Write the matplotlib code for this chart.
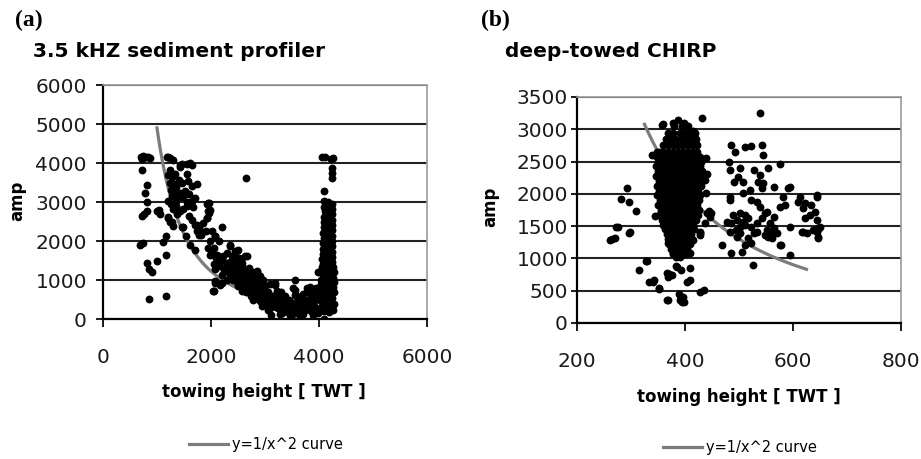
import numpy as np
import matplotlib.pyplot as plt

# ---- panel (a): 3.5 kHz sediment profiler ----
a_left = [(700, 4150), (740, 4180), (790, 4160), (840, 4150), (880, 4120), (720, 4100),
          (730, 3810), (810, 3440), (780, 3230), (810, 3000), (820, 2760), (760, 2700),
          (730, 2650), (690, 1900), (740, 1950), (810, 1440), (845, 1290), (900, 1200),
          (1000, 1480), (860, 520), (1170, 590), (1110, 1980), (1170, 2130), (1160, 1650),
          (1050, 2700), (1040, 2800), (1000, 2780), (1210, 2590), (1250, 2500), (1290, 2380)]

a_upper = [(1180, 4160), (1210, 4160), (1250, 4120), (1290, 4080), (1420, 3950), (1470, 3980),
           (1560, 3970), (1610, 3990), (1640, 3950), (1240, 3810), (1330, 3720), (1430, 3890),
           (1550, 3720), (1200, 3700), (1280, 3640), (1240, 3500), (1360, 3380), (1460, 3500),
           (1520, 3290), (1640, 3420), (1740, 3460), (1310, 3450), (1400, 3560), (1580, 3550),
           (1270, 3160), (1360, 3030), (1460, 3120), (1550, 2990), (1640, 3030), (1210, 3030),
           (1300, 3250), (1420, 3230), (1500, 3180), (1590, 3200), (1700, 3100), (1430, 2780),
           (1300, 2820), (1490, 2820), (1670, 2870), (1920, 2950), (1970, 2730), (1350, 2900),
           (1550, 2900), (1260, 2960), (1210, 2610), (1270, 2480), (1460, 2350), (1480, 2370),
           (1530, 2120), (1650, 2540), (1710, 2410), (1780, 2330), (1850, 2460), (1740, 2250),
           (1810, 2160), (1930, 2580), (1990, 2800), (1960, 2970), (1910, 2250), (1380, 2700),
           (1600, 2650), (2650, 3620), (1300, 3350), (1380, 3120), (1260, 3320)]

a_band = [(1620, 1910), (1710, 1780), (1990, 1990), (2050, 1820), (2080, 2120), (2200, 2370),
          (1990, 1650), (2110, 1650), (2140, 1530), (2050, 1400), (2170, 1360), (2080, 1270),
          (2290, 1440), (2360, 1860), (2450, 1740), (2510, 1570), (2390, 1610), (2570, 1440),
          (2660, 1610), (2450, 1310), (2540, 1190), (2330, 1190), (2200, 1140), (2080, 930),
          (2050, 720), (2200, 930), (2630, 1020), (2720, 930), (2750, 1100), (2570, 850),
          (2780, 500), (1940, 2980), (1950, 2760), (1920, 2590), (1740, 2420), (1800, 2250),
          (1770, 2160), (2010, 2250), (2070, 2120), (2140, 1990), (1950, 1820), (2010, 1690),
          (2100, 1570), (2170, 1480), (2230, 1610), (2350, 1900), (2500, 1780), (2440, 1650),
          (2630, 1610), (2290, 1350), (2380, 1270), (2480, 1390), (2570, 1350), (2600, 1140),
          (2660, 1050), (2850, 1220), (2880, 1100), (2750, 920), (2940, 970), (2070, 970),
          (2170, 880), (2040, 710), (2410, 1010), (2500, 840), (2570, 710), (2810, 800),
          (2910, 670), (3000, 840), (3060, 580), (3190, 920), (3220, 710), (3280, 500),
          (3160, 370), (3370, 580), (3430, 410), (3310, 150), (3555, 1010), (3520, 800),
          (3555, 620), (3590, 410), (3490, 240), (3680, 500), (3770, 800), (3830, 750),
          (3800, 500), (3740, 240), (3890, 330), (3930, 580), (3990, 150), (3370, 240),
          (3060, 240), (3120, 110), (2940, 330), (2780, 580), (2910, 450), (3250, 280),
          (3650, 110), (3490, 70), (2850, 1210), (2780, 1090), (2970, 1000), (2910, 830),
          (2720, 660), (2820, 530), (3000, 700), (3060, 530), (3190, 870), (3220, 660),
          (3150, 360), (3310, 490), (3280, 140), (3400, 400), (3520, 230), (3560, 740),
          (3590, 570), (3650, 400), (3710, 140), (3770, 700), (3830, 830), (3860, 570),
          (3930, 320), (3800, 320), (3960, 530), (3340, 320), (3460, 100), (3650, 100),
          (3090, 270), (3000, 400), (3890, 100), (2300, 1000), (2400, 1100), (2500, 1200),
          (2550, 1000), (2650, 900), (2700, 800), (2600, 1250), (2700, 1300), (2800, 1000),
          (2850, 900), (2900, 1100), (2950, 800), (3050, 700), (3100, 900), (3150, 600),
          (3250, 550), (3350, 400), (3400, 250), (3450, 500), (3550, 300), (3600, 200),
          (3700, 300), (3750, 450), (3850, 200), (3300, 700), (3200, 450), (3100, 350),
          (2350, 1450), (2450, 1500), (2550, 1550), (2300, 1700), (2250, 1250), (2400, 1400),
          (2200, 1550), (2900, 600), (2650, 700), (2750, 600), (3000, 550), (3450, 150),
          (3550, 150), (3600, 600), (3700, 650), (3900, 450), (3950, 800), (3990, 1210),
          (4050, 1340), (4090, 10), (2350, 1320), (2420, 1200), (2520, 1100), (2620, 1150),
          (2480, 950), (2600, 950), (2700, 1000), (2820, 700), (2680, 1200), (2760, 1200),
          (2950, 650), (3100, 500), (3200, 300), (3300, 300), (3420, 330), (3500, 420),
          (3580, 250), (3680, 200), (3760, 350), (3850, 380), (3920, 700), (3880, 650)]

a_column = [(4060, 4150), (4120, 4150), (4220, 4100), (4260, 4130), (4240, 3880), (4240, 3750),
            (4240, 3620), (4090, 3290), (4090, 3030), (4170, 2990), (4240, 2950),
            (4100, 2880), (4180, 2860), (4240, 2830), (4110, 2760), (4190, 2720), (4250, 2690),
            (4100, 2620), (4170, 2580), (4240, 2550), (4090, 2480), (4180, 2450), (4250, 2410),
            (4100, 2350), (4170, 2300), (4240, 2270), (4080, 2210), (4160, 2170), (4250, 2140),
            (4090, 2070), (4180, 2030), (4240, 2000), (4080, 1940), (4160, 1900), (4250, 1860),
            (4070, 1800), (4170, 1760), (4240, 1730), (4080, 1670), (4160, 1630), (4250, 1590),
            (4060, 1530), (4150, 1500), (4240, 1460), (4080, 1400), (4170, 1360), (4260, 1330),
            (4050, 1270), (4140, 1230), (4230, 1200), (4080, 1140), (4170, 1100), (4260, 1060),
            (4040, 1000), (4130, 970), (4220, 940), (4070, 870), (4160, 840), (4260, 810),
            (4030, 740), (4120, 710), (4210, 680), (4060, 610), (4150, 580), (4250, 550),
            (4020, 480), (4110, 450), (4200, 420), (4270, 390), (4060, 340), (4150, 310),
            (4240, 280), (4010, 240), (4100, 200), (4190, 180), (4260, 220),
            (4140, 2800), (4210, 2620), (4140, 2400), (4210, 2220), (4130, 2000), (4210, 1810),
            (4120, 1580), (4200, 1420), (4110, 1180), (4200, 1020), (4100, 780), (4200, 620),
            (4080, 520), (4170, 380), (4230, 2480), (4120, 2640), (4220, 1650), (4110, 1860),
            (4030, 900), (4000, 640), (4270, 1200), (4270, 950), (4270, 700)]

# ---- panel (b): deep-towed CHIRP ----
b_core_rows = [(3050, [380, 395, 405]),
               (2950, [368, 378, 390, 400, 410, 418]),
               (2850, [365, 373, 382, 392, 401, 410, 420]),
               (2750, [360, 368, 377, 386, 395, 404, 413, 422]),
               (2650, [352, 360, 369, 378, 387, 396, 405, 414, 423]),
               (2575, [348, 356, 365, 374, 383, 392, 401, 410, 419, 428]),
               (2500, [350, 358, 367, 376, 385, 394, 403, 412, 421, 430]),
               (2425, [346, 355, 364, 373, 382, 391, 400, 409, 418, 427]),
               (2350, [350, 359, 368, 377, 386, 395, 404, 413, 422, 431]),
               (2275, [347, 356, 365, 374, 383, 392, 401, 410, 419, 428]),
               (2200, [351, 360, 369, 378, 387, 396, 405, 414, 423, 431]),
               (2125, [348, 357, 366, 375, 384, 393, 402, 411, 420, 429]),
               (2050, [352, 361, 370, 379, 388, 397, 406, 415, 424]),
               (1975, [349, 358, 367, 376, 385, 394, 403, 412, 421, 428]),
               (1900, [353, 362, 371, 380, 389, 398, 407, 416, 425]),
               (1825, [350, 359, 368, 377, 386, 395, 404, 413, 422]),
               (1750, [355, 364, 373, 382, 391, 400, 409, 418, 426]),
               (1675, [352, 361, 370, 379, 388, 397, 406, 415, 424]),
               (1600, [357, 366, 375, 384, 393, 402, 411, 420]),
               (1525, [360, 369, 378, 387, 396, 405, 414]),
               (1450, [363, 372, 381, 390, 399, 408, 417]),
               (1375, [366, 375, 384, 393, 402, 411]),
               (1300, [368, 377, 386, 395, 404, 413]),
               (1225, [370, 380, 390, 400, 410]),
               (1150, [374, 384, 394, 404]),
               (1075, [378, 390, 402])]

b_left = [(293, 2090), (281, 1920), (296, 1870), (309, 1740), (273, 1480), (296, 1400),
          (265, 1300), (262, 1280), (270, 1310), (275, 1490), (298, 1415)]

b_low = [(344, 1650), (327, 960), (314, 820), (334, 640), (340, 640), (343, 660), (351, 537),
         (352, 530), (367, 350), (369, 357), (370, 760), (366, 770), (369, 718), (375, 744),
         (385, 873), (393, 821), (383, 890), (383, 1020), (390, 357), (395, 383), (399, 331),
         (396, 408), (392, 400), (395, 325), (389, 450), (403, 633), (409, 666), (409, 847),
         (409, 1080), (427, 486), (436, 512), (427, 1390), (368, 1467), (369, 1235),
         (378, 1080), (390, 1028), (385, 1286), (329, 966)]

b_top = [(358, 3060), (360, 3080), (378, 3090), (387, 3145), (398, 3100), (431, 3180),
         (415, 2970), (401, 3030), (440, 2300), (438, 2550), (438, 2010), (444, 1740),
         (448, 1700), (437, 2216), (440, 1700), (446, 1648), (437, 1545), (428, 1416),
         (428, 1364), (415, 1287), (339, 2600), (348, 2650)]

b_right = [(539, 3258), (486, 2757), (493, 2654), (511, 2732), (523, 2742), (542, 2757),
           (545, 2603), (576, 2463), (482, 2500), (483, 2370), (502, 2396), (499, 2267),
           (490, 2190), (508, 2190), (527, 2370), (539, 2293), (554, 2396), (536, 2190),
           (545, 2164), (542, 2087), (564, 2102), (591, 2087), (582, 1947), (613, 1957),
           (520, 2061), (508, 2020), (483, 1958), (483, 1906), (523, 1906), (533, 1880),
           (539, 1803), (551, 1725), (564, 1648), (576, 1803), (585, 1829), (610, 1880),
           (622, 1854), (634, 1829), (644, 1958), (619, 1777), (631, 1674), (641, 1725),
           (644, 1597), (647, 1467), (650, 1493), (622, 1622), (594, 1493), (616, 1416),
           (625, 1390), (647, 1338), (644, 1416), (489, 1674), (502, 1700), (511, 1674),
           (496, 1597), (508, 1571), (517, 1622), (486, 1545), (502, 1493), (511, 1519),
           (523, 1493), (533, 1545), (542, 1622), (548, 1700), (557, 1545), (564, 1467),
           (557, 1390), (570, 1390), (548, 1364), (533, 1416), (502, 1390), (496, 1338),
           (517, 1312), (527, 1390), (511, 1209), (523, 1235), (554, 1338), (561, 1312),
           (576, 1209), (594, 1054), (483, 1416), (468, 1209), (486, 1080), (505, 1106),
           (525, 898), (578, 1208), (477, 1570), (495, 1441), (551, 1441), (563, 1441),
           (619, 1415), (637, 1441), (646, 1312), (649, 1467), (644, 1983), (594, 2112)]

# y = k / x^2 reference curves
a_curve_k, a_curve_x0, a_curve_x1 = 4.9e9, 1000, 4200
b_curve_k, b_curve_x0, b_curve_x1 = 3.25e8, 325, 625


def unzip(*groups):
    pts = np.array([p for g in groups for p in g], dtype=float)
    return pts[:, 0], pts[:, 1]


ax_pts, ay_pts = unzip(a_left, a_upper, a_band, a_column)
b_core = [(x, y) for y, xs in b_core_rows for x in xs]
bx_pts, by_pts = unzip(b_core, b_left, b_low, b_top, b_right)

fig = plt.figure(figsize=(9.21, 4.59), dpi=100)
ax1 = fig.add_axes([0.1118, 0.305, 0.3518, 0.5098])
ax2 = fig.add_axes([0.6265, 0.2963, 0.3518, 0.4924])

gray = '#7c7c7c'
dot = 32


def style(ax, xlim, ylim, xt, yt, ylen, ypad):
    ax.set_xlim(*xlim)
    ax.set_ylim(*ylim)
    ax.set_xticks(xt)
    ax.set_yticks(yt)
    ax.yaxis.grid(True, color='#222222', lw=1.5)
    ax.set_axisbelow(True)
    for s in ['left', 'bottom']:
        ax.spines[s].set_color('black')
        ax.spines[s].set_linewidth(1.6)
    for s in ['top', 'right']:
        ax.spines[s].set_color('#9a9a9a')
        ax.spines[s].set_linewidth(1.2)
    ax.tick_params(axis='x', length=5.8, width=1.4, pad=15, labelsize=14.5, colors='#1a1a1a')
    ax.tick_params(axis='y', length=ylen, width=1.4, pad=ypad, labelsize=14.5, colors='#1a1a1a')


# panel (a)
xc = np.linspace(a_curve_x0, a_curve_x1, 200)
ax1.plot(xc, a_curve_k / xc ** 2, color=gray, lw=2.3, label='y=1/x^2 curve', zorder=2)
ax1.scatter(ax_pts, ay_pts, s=dot, color='black', linewidths=0, zorder=3)
style(ax1, (0, 6000), (0, 6000), [0, 2000, 4000, 6000], range(0, 6001, 1000), 4.7, 6.8)

# panel (b)
xc = np.linspace(b_curve_x0, b_curve_x1, 200)
ax2.plot(xc, b_curve_k / xc ** 2, color=gray, lw=2.3, label='y=1/x^2 curve', zorder=2)
ax2.scatter(bx_pts, by_pts, s=dot, color='black', linewidths=0, zorder=3)
style(ax2, (200, 800), (0, 3500), [200, 400, 600, 800], range(0, 3501, 500), 4.0, 2.5)

for ax, pos in [(ax1, (0.2883, 0.031)), (ax2, (0.803, 0.024))]:
    ax.legend(loc='center', bbox_to_anchor=pos, bbox_transform=fig.transFigure,
              frameon=False, fontsize=10.5, handlelength=2.7, handletextpad=0.25)

fig.text(0.0163, 0.956, '(a)', fontsize=17, fontweight='bold', family='Liberation Serif',
         ha='left', va='center')
fig.text(0.522, 0.956, '(b)', fontsize=17, fontweight='bold', family='Liberation Serif',
         ha='left', va='center')
fig.text(0.0358, 0.887, '3.5 kHZ sediment profiler', fontsize=14.5, fontweight='bold',
         ha='left', va='center')
fig.text(0.548, 0.887, 'deep-towed CHIRP', fontsize=14.5, fontweight='bold',
         ha='left', va='center')
fig.text(0.2866, 0.146, 'towing height [ TWT ]', fontsize=12, fontweight='bold',
         ha='center', va='center')
fig.text(0.8024, 0.135, 'towing height [ TWT ]', fontsize=12, fontweight='bold',
         ha='center', va='center')
fig.text(0.019, 0.562, 'amp', fontsize=12, fontweight='bold', rotation=90,
         ha='center', va='center')
fig.text(0.532, 0.549, 'amp', fontsize=12, fontweight='bold', rotation=90,
         ha='center', va='center')

fig.savefig('out.png', dpi=100)
